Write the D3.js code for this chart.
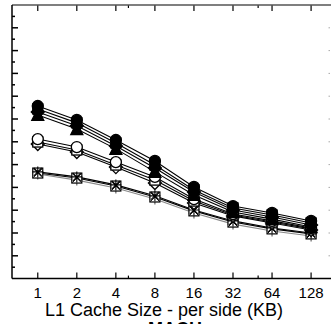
<!DOCTYPE html>
<html>
<head>
<meta charset="utf-8">
<script src="https://cdn.jsdelivr.net/npm/d3@7"></script>
<style>
  body { margin: 0; background: #fff; }
  svg { display: block; font-family: 'Liberation Sans', Arial, sans-serif; }
</style>
</head>
<body>
<div id="chart"></div>
<script>
// cache sizes on the x axis (KB per side)
var cacheSizes = [1, 2, 4, 8, 16, 32, 64, 128]
var minorTicks = [5, 50]

// one row per configuration, values in y units
var filledCircle   = [7.57, 6.96, 6.08, 5.16, 4.02, 3.18, 2.88, 2.53]
var filledSquare   = [7.44, 6.83, 5.95, 4.98, 3.89, 3.10, 2.79, 2.44]
var filledDiamond  = [7.31, 6.70, 5.82, 4.85, 3.80, 3.01, 2.70, 2.35]
var filledTriangle = [7.18, 6.56, 5.69, 4.68, 3.67, 2.92, 2.61, 2.26]
var openCircle     = [6.12, 5.77, 5.11, 4.46, 3.49, 2.83, 2.53, 2.22]
var openSquare     = [5.99, 5.64, 4.98, 4.32, 3.40, 2.79, 2.48, 2.18]
var openDiamond    = [5.90, 5.55, 4.89, 4.19, 3.32, 2.75, 2.44, 2.13]
var crossSquare    = [4.63, 4.41, 4.06, 3.58, 2.97, 2.48, 2.18, 1.96]
var asterisk       = [4.68, 4.46, 4.11, 3.63, 3.01, 2.53, 2.22, 2.00]
var plusMark       = [4.59, 4.32, 3.97, 3.49, 2.88, 2.39, 2.09, 1.87]

var xTitle = 'L1 Cache Size - per side (KB)'
var subTitle = 'MACH'

var series = [
  { values: plusMark, marker: 'plus', line: '#888' },
  { values: crossSquare, marker: 'boxx', line: '#000' },
  { values: asterisk, marker: 'star', line: '#000' },
  { values: openDiamond, marker: 'diamond', fill: '#fff', line: '#000' },
  { values: openSquare, marker: 'square', fill: '#fff', line: '#000' },
  { values: openCircle, marker: 'circle', fill: '#fff', line: '#000' },
  { values: filledTriangle, marker: 'triangle', fill: '#000', line: '#000' },
  { values: filledDiamond, marker: 'diamond', fill: '#000', line: '#000' },
  { values: filledSquare, marker: 'square', fill: '#000', line: '#000' },
  { values: filledCircle, marker: 'circle', fill: '#000', line: '#000' }
]

var width = 331
var height = 324

var margin = {
  top: 5,
  left: 12,
  bottom: 45.4,
  right: 0
}

var svg = d3.select('#chart').append('svg')
  .attr('width', width)
  .attr('height', height)

var x = d3.scaleLog().base(2)
  .domain([Math.pow(2, -0.66), Math.pow(2, 7.51)])
  .range([margin.left, width - margin.right])

var y = d3.scaleLinear()
  .domain([0, 12])
  .range([height - margin.bottom, margin.top])

var x0 = margin.left
var x1 = width - margin.right
var y0 = height - margin.bottom
var y1 = margin.top

// left ticks: majors every unit, minors on halves
var yMajor = d3.range(1, 12)
var yMinor = d3.range(0.5, 12, 1)

svg.selectAll('.ymajor')
  .data(yMajor)
  .enter().append('line')
  .attr('x1', x0).attr('x2', x0 + 6)
  .attr('y1', function (d) { return y(d) }).attr('y2', function (d) { return y(d) })
  .attr('stroke', '#000').attr('stroke-width', 1.5)

svg.selectAll('.yminor')
  .data(yMinor)
  .enter().append('line')
  .attr('x1', x0).attr('x2', x0 + 3)
  .attr('y1', function (d) { return y(d) }).attr('y2', function (d) { return y(d) })
  .attr('stroke', '#000').attr('stroke-width', 1.5)

// faint right-hand ticks
svg.selectAll('.yright')
  .data(yMajor)
  .enter().append('line')
  .attr('x1', x1 - 2.5).attr('x2', x1 - 1)
  .attr('y1', function (d) { return y(d) }).attr('y2', function (d) { return y(d) })
  .attr('stroke', '#aaa').attr('stroke-width', 1)

// x ticks on bottom and top
svg.selectAll('.xbot')
  .data(cacheSizes)
  .enter().append('line')
  .attr('x1', function (d) { return x(d) }).attr('x2', function (d) { return x(d) })
  .attr('y1', y0).attr('y2', y0 - 6)
  .attr('stroke', '#000').attr('stroke-width', 1.2)

svg.selectAll('.xtop')
  .data(cacheSizes)
  .enter().append('line')
  .attr('x1', function (d) { return x(d) }).attr('x2', function (d) { return x(d) })
  .attr('y1', y1).attr('y2', y1 + 6)
  .attr('stroke', '#000').attr('stroke-width', 1.2)

svg.selectAll('.xminor')
  .data(minorTicks)
  .enter().append('g')
  .each(function (d) {
    var g = d3.select(this)
    g.append('line')
      .attr('x1', x(d)).attr('x2', x(d)).attr('y1', y0).attr('y2', y0 - 3)
      .attr('stroke', '#000').attr('stroke-width', 1.2)
    g.append('line')
      .attr('x1', x(d)).attr('x2', x(d)).attr('y1', y1).attr('y2', y1 + 3)
      .attr('stroke', '#000').attr('stroke-width', 1.2)
  })

// frame
svg.append('line')
  .attr('x1', x0).attr('x2', x1).attr('y1', y1).attr('y2', y1)
  .attr('stroke', '#555').attr('stroke-width', 1.5)
svg.append('line')
  .attr('x1', x0).attr('x2', x1).attr('y1', y0).attr('y2', y0)
  .attr('stroke', '#000').attr('stroke-width', 1.5)
svg.append('line')
  .attr('x1', x0).attr('x2', x0).attr('y1', y1).attr('y2', y0)
  .attr('stroke', '#000').attr('stroke-width', 1.5)

// tick labels and titles
svg.selectAll('.xlabel')
  .data(cacheSizes)
  .enter().append('text')
  .attr('x', function (d) { return x(d) })
  .attr('y', y0 + 19.5)
  .attr('text-anchor', 'middle')
  .attr('font-size', 15)
  .text(function (d) { return d })

svg.append('text')
  .attr('x', 164)
  .attr('y', 316)
  .attr('text-anchor', 'middle')
  .attr('font-size', 18)
  .text(xTitle)

svg.append('text')
  .attr('x', 175)
  .attr('y', 335)
  .attr('text-anchor', 'middle')
  .attr('font-size', 18)
  .attr('font-weight', 'bold')
  .text(subTitle)

var line = d3.line()
  .x(function (d, i) { return x(cacheSizes[i]) })
  .y(function (d) { return y(d) })

var r = 5.5

function drawMarker (g, s, cx, cy) {
  var fill = s.fill || '#fff'
  if (s.marker === 'circle') {
    g.append('circle').attr('cx', cx).attr('cy', cy).attr('r', r)
      .attr('fill', fill).attr('stroke', '#000').attr('stroke-width', 1.3)
  } else if (s.marker === 'square') {
    g.append('rect').attr('x', cx - r + 0.5).attr('y', cy - r + 0.5)
      .attr('width', 2 * r - 1).attr('height', 2 * r - 1)
      .attr('fill', fill).attr('stroke', '#000').attr('stroke-width', 1.3)
  } else if (s.marker === 'diamond') {
    g.append('path')
      .attr('d', 'M' + cx + ',' + (cy - r - 1) + 'L' + (cx + r + 1) + ',' + cy +
        'L' + cx + ',' + (cy + r + 1) + 'L' + (cx - r - 1) + ',' + cy + 'Z')
      .attr('fill', fill).attr('stroke', '#000').attr('stroke-width', 1.3)
  } else if (s.marker === 'triangle') {
    g.append('path')
      .attr('d', 'M' + cx + ',' + (cy - r - 1) + 'L' + (cx + r + 0.5) + ',' + (cy + r) +
        'L' + (cx - r - 0.5) + ',' + (cy + r) + 'Z')
      .attr('fill', fill).attr('stroke', '#000').attr('stroke-width', 1.3)
  } else if (s.marker === 'boxx') {
    g.append('rect').attr('x', cx - r + 0.5).attr('y', cy - r + 0.5)
      .attr('width', 2 * r - 1).attr('height', 2 * r - 1)
      .attr('fill', '#fff').attr('stroke', '#000').attr('stroke-width', 1.2)
    g.append('path')
      .attr('d', 'M' + (cx - r + 1) + ',' + (cy - r + 1) + 'L' + (cx + r - 1) + ',' + (cy + r - 1) +
        'M' + (cx + r - 1) + ',' + (cy - r + 1) + 'L' + (cx - r + 1) + ',' + (cy + r - 1))
      .attr('stroke', '#000').attr('stroke-width', 1)
  } else if (s.marker === 'star') {
    var p = ''
    for (var k = 0; k < 4; k++) {
      var a = k * Math.PI / 4
      p += 'M' + (cx - r * Math.cos(a)) + ',' + (cy - r * Math.sin(a)) +
        'L' + (cx + r * Math.cos(a)) + ',' + (cy + r * Math.sin(a))
    }
    g.append('path').attr('d', p).attr('stroke', '#000').attr('stroke-width', 1.1)
  } else if (s.marker === 'plus') {
    g.append('path')
      .attr('d', 'M' + (cx - r) + ',' + cy + 'L' + (cx + r) + ',' + cy +
        'M' + cx + ',' + (cy - r) + 'L' + cx + ',' + (cy + r))
      .attr('stroke', '#555').attr('stroke-width', 1.1)
  }
}

series.forEach(function (s) {
  svg.append('path')
    .datum(s.values)
    .attr('d', line)
    .attr('fill', 'none')
    .attr('stroke', s.line)
    .attr('stroke-width', 1.1)
})

series.forEach(function (s) {
  var g = svg.append('g')
  s.values.forEach(function (v, i) {
    drawMarker(g, s, x(cacheSizes[i]), y(v))
  })
})
</script>
</body>
</html>
